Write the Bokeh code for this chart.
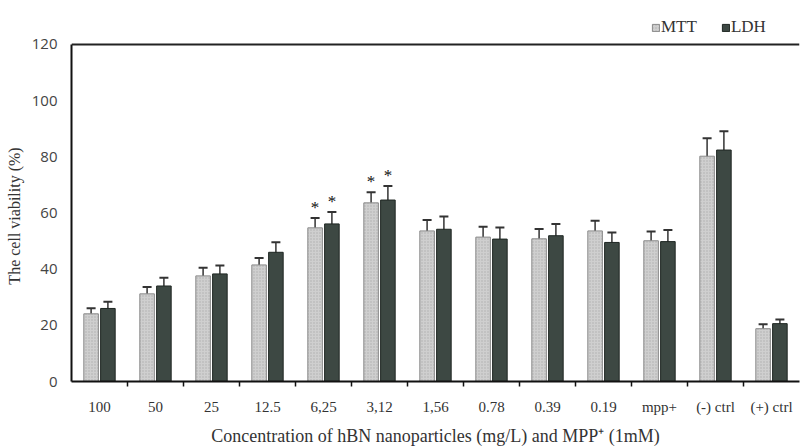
from bokeh.plotting import figure
from bokeh.models import (ColumnDataSource, FixedTicker, Whisker, TeeHead, Legend,
                          LegendItem, Range1d, Span)
from bokeh.core.properties import value
from bokeh.embed import file_html
from bokeh.resources import INLINE

categories = ["100", "50", "25", "12.5", "6,25", "3,12", "1,56", "0.78", "0.39",
              "0.19", "mpp+", "(-) ctrl", "(+) ctrl"]
mtt = [24.1, 31.2, 37.6, 41.5, 54.7, 63.6, 53.6, 51.4, 50.8, 53.6, 50.1, 80.2, 18.8]
ldh = [26.0, 34.0, 38.3, 46.0, 56.1, 64.6, 54.2, 50.7, 51.9, 49.5, 49.8, 82.4, 20.6]
mtt_err = [2.0, 2.4, 2.9, 2.5, 3.5, 3.8, 3.9, 3.7, 3.5, 3.6, 3.3, 6.4, 1.6]
ldh_err = [2.4, 2.9, 3.0, 3.6, 4.2, 5.0, 4.5, 4.1, 4.2, 3.5, 4.1, 6.7, 1.5]
significant = ["6,25", "3,12"]
y_ticks = [0, 20, 40, 60, 80, 100, 120]

n = len(categories)
centers = [i + 0.5 for i in range(n)]
off = 0.15
bw = 0.26

mtt_src = ColumnDataSource(dict(x=[c - off for c in centers], top=mtt,
                                lo=[v - e for v, e in zip(mtt, mtt_err)],
                                hi=[v + e for v, e in zip(mtt, mtt_err)]))
ldh_src = ColumnDataSource(dict(x=[c + off for c in centers], top=ldh,
                                lo=[v - e for v, e in zip(ldh, ldh_err)],
                                hi=[v + e for v, e in zip(ldh, ldh_err)]))

# frame spans 14..382 px; y=120 lands at ~44 px
p = figure(width=803, height=448, output_backend="svg", toolbar_location=None,
           x_range=Range1d(0, n), y_range=Range1d(0, 130.65),
           min_border_left=71, min_border_right=4, min_border_top=14, min_border_bottom=10)
p.background_fill_color = "white"
p.border_fill_color = "white"
p.outline_line_color = None
p.xgrid.visible = False
p.ygrid.visible = False

p.add_layout(Span(location=120, dimension="width", line_color="#222222", line_width=2))

r1 = p.vbar(x="x", top="top", width=bw, bottom=0, source=mtt_src,
            fill_color="#cfcfcf", line_color="#8a8a8a", line_width=1,
            hatch_pattern="dot", hatch_color="#9a9a9a", hatch_scale=3, hatch_alpha=0.6)
r2 = p.vbar(x="x", top="top", width=bw, bottom=0, source=ldh_src,
            fill_color="#3d4843", line_color="#1e2622", line_width=1)

for src in (mtt_src, ldh_src):
    w = Whisker(source=src, base="x", lower="lo", upper="hi", line_color="#333333", line_width=1.5,
                upper_head=TeeHead(size=9, line_color="#333333", line_width=2),
                lower_head=TeeHead(size=9, line_color="#777777", line_width=1.2))
    p.add_layout(w)

sig_idx = [categories.index(s) for s in significant]
sx, sy = [], []
for i in sig_idx:
    sx += [centers[i] - off, centers[i] + off]
    sy += [mtt[i] + mtt_err[i], ldh[i] + ldh_err[i]]
p.text(x=sx, y=sy, text=["*"] * len(sx), text_align="center", text_baseline="bottom",
       y_offset=-1, text_font=value("Liberation Serif"), text_font_size="17px",
       text_color="#111111")

# axes
p.xaxis.ticker = FixedTicker(ticks=centers, minor_ticks=list(range(1, n)))
p.xaxis.major_label_overrides = {c: lab for c, lab in zip(centers, categories)}
p.xaxis.major_tick_out = 0
p.xaxis.major_tick_in = 0
p.xaxis.minor_tick_out = 5
p.xaxis.minor_tick_in = 0
p.xaxis.minor_tick_line_color = "#111111"
p.xaxis.minor_tick_line_width = 1.5
p.xaxis.axis_line_color = "#111111"
p.xaxis.axis_line_width = 2
p.xaxis.major_label_text_font = "Liberation Serif"
p.xaxis.major_label_text_font_size = "15px"
p.xaxis.major_label_text_color = "#333333"
p.xaxis.major_label_standoff = 12
p.xaxis.axis_label = "Concentration of hBN nanoparticles (mg/L) and MPP\u207a (1mM)"
p.xaxis.axis_label_text_font = "Liberation Serif"
p.xaxis.axis_label_text_font_size = "18px"
p.xaxis.axis_label_text_font_style = "normal"
p.xaxis.axis_label_text_color = "#333333"
p.xaxis.axis_label_standoff = 8

p.yaxis.ticker = FixedTicker(ticks=y_ticks)
p.yaxis.bounds = (0, 120)
p.yaxis.major_tick_out = 0
p.yaxis.major_tick_in = 0
p.yaxis.minor_tick_line_color = None
p.yaxis.axis_line_color = "#111111"
p.yaxis.axis_line_width = 2
p.yaxis.major_label_text_font = "Open Sans"
p.yaxis.major_label_text_font_size = "15px"
p.yaxis.major_label_text_color = "#444444"
p.yaxis.major_label_standoff = 14
# trailing no-break spaces centre the label on the 0-120 part of the axis
p.yaxis.axis_label = "The cell viability (%)" + "\u00a0" * 9
p.yaxis.axis_label_text_font = "Liberation Serif"
p.yaxis.axis_label_text_font_size = "16px"
p.yaxis.axis_label_text_font_style = "normal"
p.yaxis.axis_label_text_color = "#333333"
p.yaxis.axis_label_standoff = 6

legend = Legend(items=[LegendItem(label="MTT", renderers=[r1]),
                       LegendItem(label="LDH", renderers=[r2])],
                orientation="horizontal", location=(580, 344),
                label_text_font="Liberation Serif", label_text_font_size="17px",
                label_text_color="#333333", glyph_width=9, glyph_height=9,
                label_standoff=1, spacing=24, padding=4, margin=0,
                border_line_color=None, background_fill_alpha=0)
p.add_layout(legend, "center")

open("out.html", "w").write(file_html(p, INLINE))
